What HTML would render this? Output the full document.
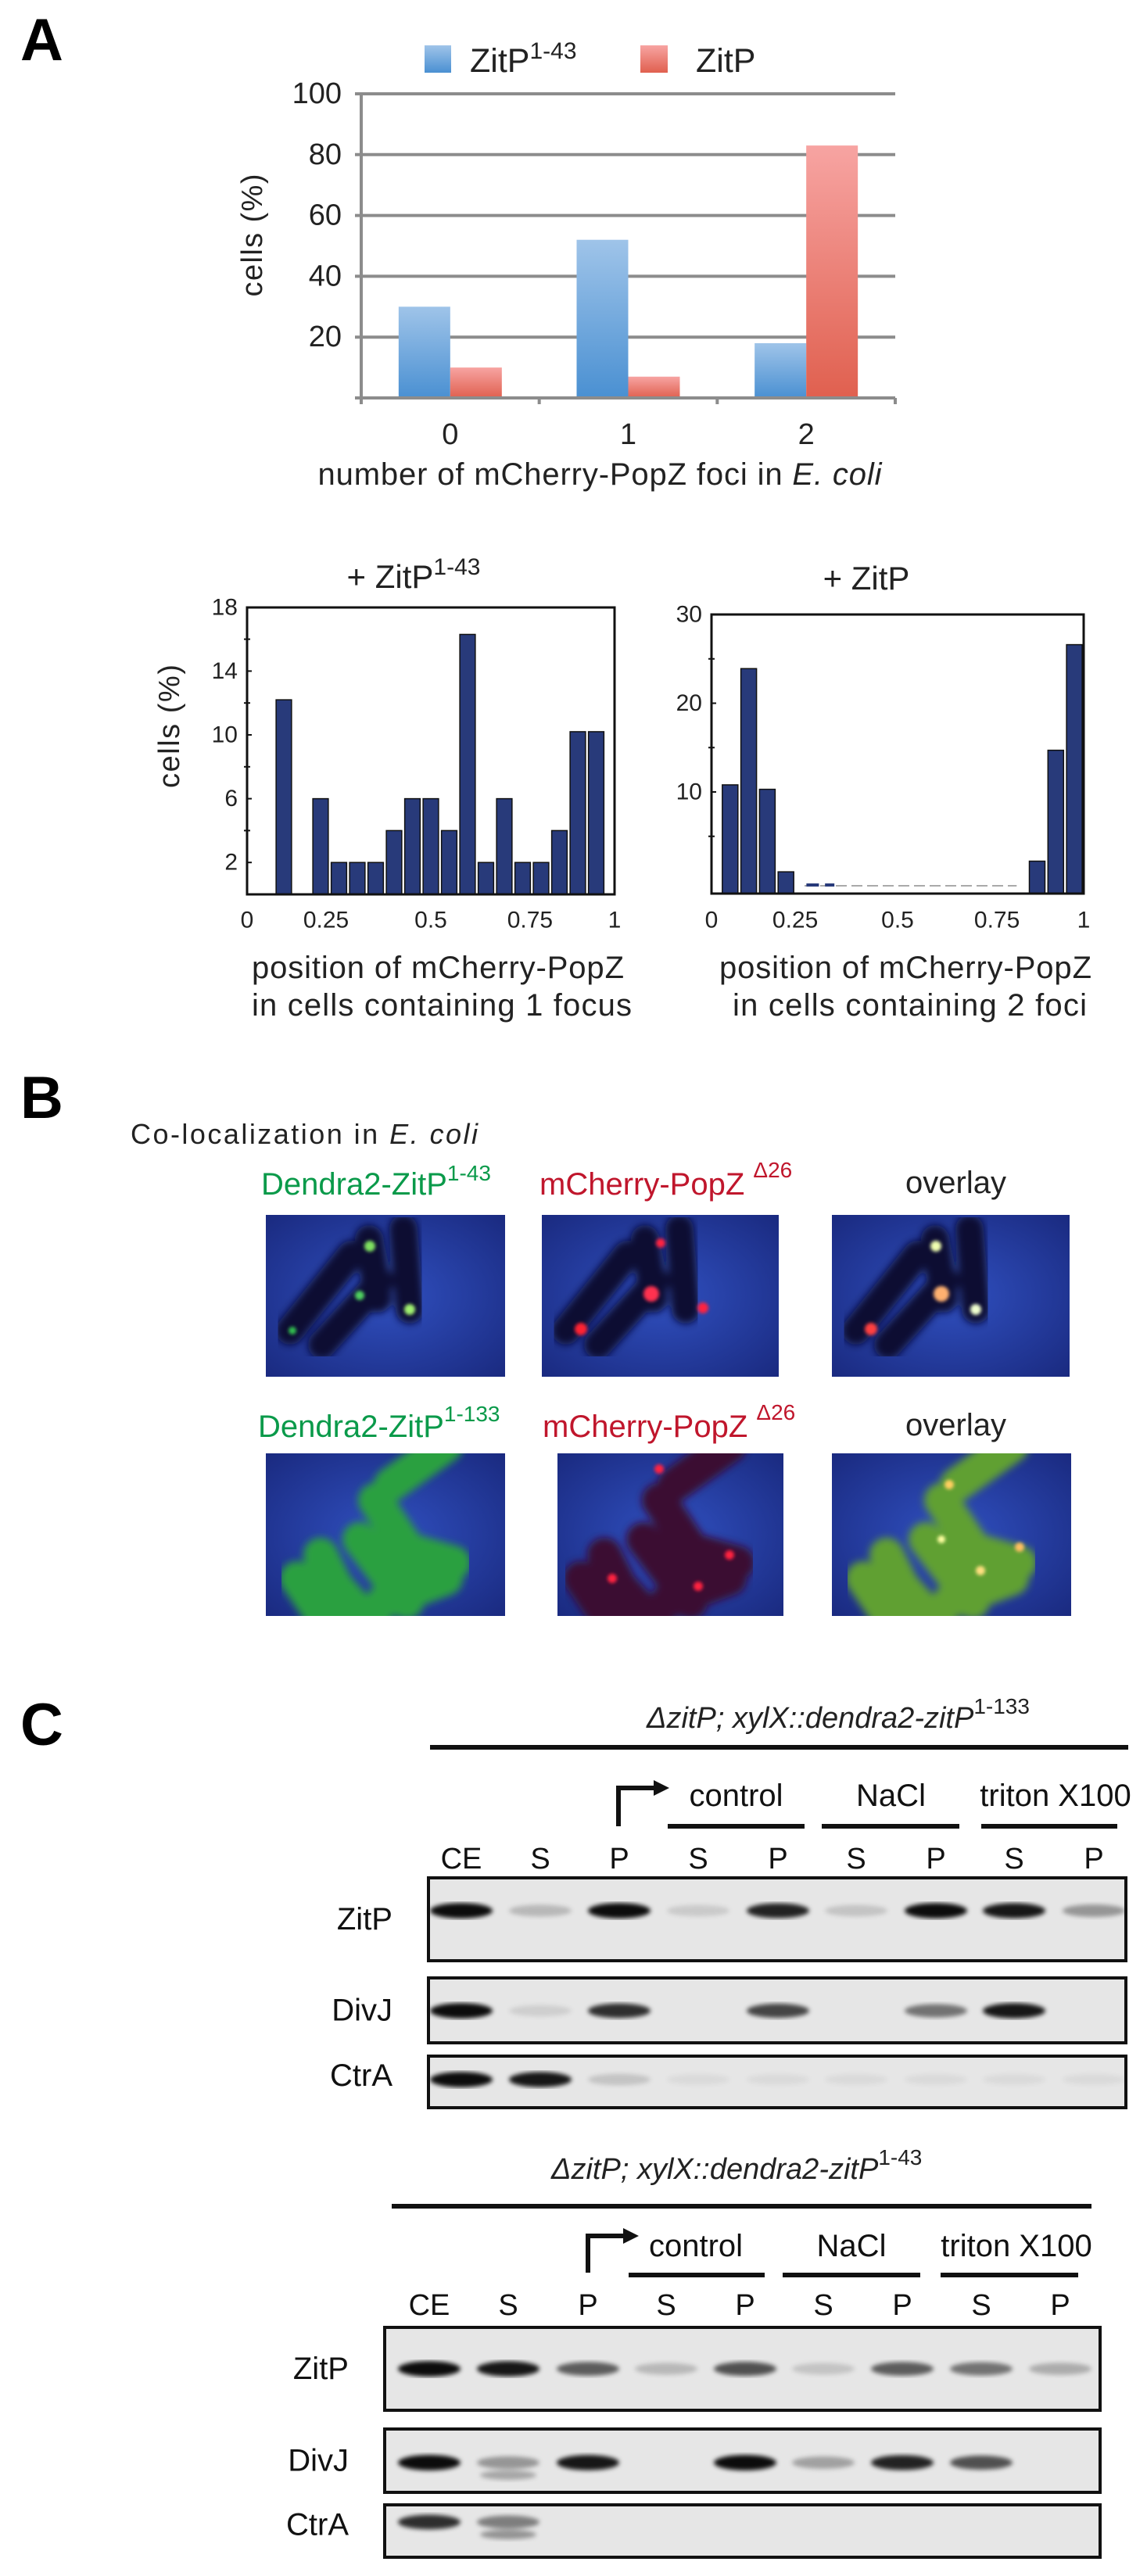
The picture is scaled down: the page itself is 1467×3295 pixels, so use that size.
<!DOCTYPE html>
<html><head><meta charset="utf-8"><style>
html,body{margin:0;padding:0;background:#fff;}
svg{display:block;font-family:"Liberation Sans",Arial,sans-serif;}
</style></head><body>
<svg id="fig" xmlns="http://www.w3.org/2000/svg" width="1467" height="3295" viewBox="0 0 1467 3295">
<defs>
<linearGradient id="gBlue" x1="0" y1="0" x2="0" y2="1"><stop offset="0" stop-color="#9fc4e9"/><stop offset="1" stop-color="#4a90d2"/></linearGradient>
<linearGradient id="gRed" x1="0" y1="0" x2="0" y2="1"><stop offset="0" stop-color="#f7a4a2"/><stop offset="1" stop-color="#e0604f"/></linearGradient>
<filter id="blur3"><feGaussianBlur stdDeviation="3"/></filter>
<filter id="blur5"><feGaussianBlur stdDeviation="5"/></filter>
<filter id="blur2"><feGaussianBlur stdDeviation="2"/></filter>
<radialGradient id="gMic" cx="0.5" cy="0.5" r="0.7"><stop offset="0" stop-color="#3050c0"/><stop offset="1" stop-color="#1a2a80"/></radialGradient>
<clipPath id="clipH2"><rect x="910" y="786" width="476" height="357"/></clipPath>
</defs>

<text x="26" y="77" font-size="76" font-weight="bold">A</text>
<text x="26" y="1430" font-size="76" font-weight="bold">B</text>
<text x="26" y="2232" font-size="76" font-weight="bold">C</text>

<g id="chartA">
  <rect x="543" y="58" width="34" height="35" fill="url(#gBlue)"/>
  <text x="601" y="92" font-size="43" fill="#222">ZitP<tspan font-size="30" dy="-17">1-43</tspan></text>
  <rect x="819" y="58" width="35" height="35" fill="url(#gRed)"/>
  <text x="890" y="92" font-size="43" fill="#222">ZitP</text>
  <text transform="translate(323,301) rotate(-90)" text-anchor="middle" dominant-baseline="central" font-size="38" fill="#222" textLength="157">cells (%)</text>
  <text x="767" y="620" text-anchor="middle" font-size="40" fill="#222" textLength="721">number of mCherry-PopZ foci in <tspan font-style="italic">E. coli</tspan></text>
</g>

<g id="hist1">
  <text x="529" y="752" text-anchor="middle" font-size="42" fill="#222">+ ZitP<tspan font-size="30" dy="-17">1-43</tspan></text>
  <text transform="translate(217,929) rotate(-90)" text-anchor="middle" dominant-baseline="central" font-size="38" fill="#222" textLength="158">cells (%)</text>
  <text x="322" y="1251" font-size="40" fill="#222" textLength="476">position of mCherry-PopZ</text>
  <text x="322" y="1299" font-size="40" fill="#222" textLength="486">in  cells containing 1 focus</text>
</g>
<g id="hist2">
  <text x="1108" y="754" text-anchor="middle" font-size="42" fill="#222">+ ZitP</text>
  <text x="920" y="1251" font-size="40" fill="#222" textLength="476">position of mCherry-PopZ</text>
  <text x="937" y="1299" font-size="40" fill="#222" textLength="453">in  cells containing 2 foci</text>
</g>

<g id="panelB">
  <text x="167" y="1463" font-size="36" fill="#222" textLength="444">Co-localization in <tspan font-style="italic">E. coli</tspan></text>
  <text x="334" y="1528" font-size="40" fill="#0a9a4a">Dendra2-ZitP<tspan font-size="28" dy="-18">1-43</tspan></text>
  <text x="690" y="1528" font-size="40" fill="#c0162c">mCherry-PopZ <tspan font-size="28" dy="-22">Δ26</tspan></text>
  <text x="1158" y="1526" font-size="40" fill="#222">overlay</text>
  <text x="330" y="1838" font-size="40" fill="#0a9a4a">Dendra2-ZitP<tspan font-size="28" dy="-20">1-133</tspan></text>
  <text x="694" y="1838" font-size="40" fill="#c0162c">mCherry-PopZ <tspan font-size="28" dy="-22">Δ26</tspan></text>
  <text x="1158" y="1836" font-size="40" fill="#222">overlay</text>
</g>
<g id="micros"></g>

<g id="panelC"></g>
</svg>

<script>
// ---------- Chart A data ----------
const catsA = ["0", "1", "2"];
const seriesZitP143 = [30, 52, 18];
const seriesZitP = [10, 7, 83];
const yTicksA = [20, 40, 60, 80, 100];

// ---------- Histogram 1 data ----------
const bins1 = [0.10,0.15,0.20,0.25,0.30,0.35,0.40,0.45,0.50,0.55,0.60,0.65,0.70,0.75,0.80,0.85,0.90,0.95];
const vals1 = [12.2,0,6,2,2,2,4,6,6,4,16.3,2,6,2,2,4,10.2,10.2];
const yTicks1 = [2, 6, 10, 14, 18];
const yMinor1 = [4, 8, 12, 16];
const xTicks1 = ["0", "0.25", "0.5", "0.75", "1"];
const xTickVals1 = [0, 0.215, 0.5, 0.77, 1];

// ---------- Histogram 2 data ----------
const bins2 = [0.05,0.10,0.15,0.20,0.875,0.925,0.975,1.025];
const vals2 = [10.8,23.9,10.3,1.0,2.2,14.7,26.6,2.1];
const yTicks2 = [10, 20, 30];
const yMinor2 = [5, 15, 25];
const xTicks2 = ["0", "0.25", "0.5", "0.75", "1"];
const xTickVals2 = [0, 0.225, 0.5, 0.767, 1];

// ---------- Blot data (band intensity per lane) ----------
const laneLabels = ["CE","S","P","S","P","S","P","S","P"];
const blot1ZitP = [0.95,0.2,0.95,0.12,0.85,0.15,0.95,0.9,0.35];
const blot1DivJ = [0.95,0.1,0.8,0,0.7,0,0.5,0.9,0];
const blot1CtrA = [0.95,0.9,0.15,0.05,0.05,0.05,0.05,0.05,0.05];
const blot2ZitP = [0.95,0.9,0.6,0.2,0.65,0.15,0.6,0.5,0.25];
const blot2DivJ = [0.95,0.35,0.9,0,0.95,0.3,0.85,0.65,0];
const blot2CtrA = [0.8,0.45,0,0,0,0,0,0,0];

const NS = "http://www.w3.org/2000/svg";
function mk(parent, tag, attrs, txt){
  const e = document.createElementNS(NS, tag);
  for (const k in attrs) e.setAttribute(k, attrs[k]);
  if (txt !== undefined) e.textContent = txt;
  parent.appendChild(e);
  return e;
}

(function(){
  const g = document.getElementById('chartA');
  const L = 462, R = 1145, Y0 = 509, PPU = 3.89;
  const yA = v => Y0 - v * PPU;
  const gw = (R - L) / catsA.length;
  const xc = i => L + (i + 0.5) * gw;
  yTicksA.forEach(t => {
    const ln = mk(g, 'line', {x1: L - 8, x2: R, y1: yA(t), y2: yA(t), stroke: '#8c8c8c', 'stroke-width': 4});
    
    
    const tx = mk(g, 'text', {x: 437, y: yA(t), 'text-anchor': 'end', 'dominant-baseline': 'central', 'font-size': 38, fill: '#222'}, String(t));
    
    
  });
  catsA.forEach((c, i) => {
    const bw = 66;
    const b1 = mk(g, 'rect', {x: xc(i) - bw, y: yA(seriesZitP143[i]), width: bw, height: seriesZitP143[i] * PPU, fill: 'url(#gBlue)'});
    
    
    const b2 = mk(g, 'rect', {x: xc(i), y: yA(seriesZitP[i]), width: bw, height: seriesZitP[i] * PPU, fill: 'url(#gRed)'});
    
    
    const tl = mk(g, 'text', {x: xc(i), y: 568, 'text-anchor': 'middle', 'font-size': 38, fill: '#222'}, c);
    
    
  });
  const ax = mk(g, 'line', {x1: L, x2: L, y1: yA(100) - 2, y2: Y0 + 2, stroke: '#8c8c8c', 'stroke-width': 4});
  
  
  const bx = mk(g, 'line', {x1: L - 8, x2: R, y1: Y0, y2: Y0, stroke: '#8c8c8c', 'stroke-width': 4});
  
  
  for (let i = 0; i <= catsA.length; i++) {
    const tk = mk(g, 'line', {x1: L + i * gw, x2: L + i * gw, y1: Y0, y2: Y0 + 8, stroke: '#8c8c8c', 'stroke-width': 4});
    
    
  }
})();

function drawHist(gid, cfg){
  const g = document.getElementById(gid);
  const {L, R, T, B, ppx, y0px, bins, vals, yTicks, yMinor, xTicks, xTickVals, clip} = cfg;
  const x = v => L + v * (R - L);
  const y = v => y0px - v * ppx;
  const bg = mk(g, 'g', clip ? {'clip-path': clip} : {});
  bins.forEach((b, i) => {
    if (vals[i] <= 0) return;
    const w = 0.042 * (R - L);
    const r = mk(bg, 'rect', {x: x(b) - w / 2, y: y(vals[i]), width: w, height: B - y(vals[i]), fill: '#283a7a', stroke: '#111', 'stroke-width': 1.5});
    
    
  });
  const fr = mk(g, 'path', {d: `M${L},${T} L${R},${T} L${R},${B} L${L},${B} Z`, fill: 'none', stroke: '#111', 'stroke-width': 3});
  
  
  yTicks.forEach(t => {
    const tk = mk(g, 'line', {x1: L, x2: L + 6, y1: y(t), y2: y(t), stroke: '#111', 'stroke-width': 2});
    
    
    const tl = mk(g, 'text', {x: L - 12, y: y(t), 'text-anchor': 'end', 'dominant-baseline': 'central', 'font-size': 30, fill: '#222'}, String(t));
    
    
  });
  yMinor.forEach(t => {
    const tk = mk(g, 'line', {x1: L - 4, x2: L + 4, y1: y(t), y2: y(t), stroke: '#111', 'stroke-width': 2});
    
    
  });
  xTicks.forEach((t, i) => {
    const tl = mk(g, 'text', {x: x(xTickVals[i]), y: 1177, 'text-anchor': 'middle', 'dominant-baseline': 'central', 'font-size': 30, fill: '#222'}, t);
    
    
  });
  return {x, y};
}
drawHist('hist1', {L: 316, R: 786, T: 777, B: 1144, ppx: 20.4, y0px: 1144, bins: bins1, vals: vals1, yTicks: yTicks1, yMinor: yMinor1, xTicks: xTicks1, xTickVals: xTickVals1});
const h2 = drawHist('hist2', {L: 910, R: 1386, T: 786, B: 1143, ppx: 11.35, y0px: 1126.5, bins: bins2, vals: vals2, yTicks: yTicks2, yMinor: yMinor2, xTicks: xTicks2, xTickVals: xTickVals2, clip: 'url(#clipH2)'});
(function(){
  const g = document.getElementById('hist2');
  const dl = mk(g, 'line', {x1: h2.x(0.25), x2: h2.x(0.82), y1: 1133, y2: 1133, stroke: '#aaa', 'stroke-width': 2, 'stroke-dasharray': '14 6'});
  
  
  const m1 = mk(g, 'rect', {x: h2.x(0.255), y: 1130, width: 16, height: 4, fill: '#283a7a'});
  
  
  const m2 = mk(g, 'rect', {x: h2.x(0.305), y: 1130, width: 12, height: 4, fill: '#283a7a'});
  
  
})();

(function(){
  const g = document.getElementById('micros');
  const defs = document.querySelector('defs');
  const cells1 = [[31,148,109,51],[72,166,146,85],[143,107,132,31],[184,121,176,18]];
  let cid = 0;
  function img(x0, y0, w, h, name, cells, cellColor, dots, dense){
    cid++;
    const cp = mk(defs, 'clipPath', {id: 'micClip' + cid});
    mk(cp, 'rect', {x: 0, y: 0, width: w, height: h});
    const gg = mk(g, 'g', {transform: `translate(${x0},${y0})`, 'clip-path': `url(#micClip${cid})`});
    
    
    mk(gg, 'rect', {x: 0, y: 0, width: w, height: h, fill: 'url(#gMic)'});
    const cg = mk(gg, 'g', {filter: 'url(#blur5)'});
    cells.forEach(c => {
      mk(cg, 'line', {x1: c[0], y1: c[1], x2: c[2], y2: c[3], stroke: cellColor, 'stroke-width': dense ? 44 : 36, 'stroke-linecap': 'round'});
    });
    const dg = mk(gg, 'g', {filter: 'url(#blur2)'});
    dots.forEach(d => mk(dg, 'circle', {cx: d[0], cy: d[1], r: d[2], fill: d[3]}));
  }
  const gd = [[133,40,7,'#7fe060'],[120,103,6,'#50d060'],[184,121,7,'#a0f070'],[34,148,5,'#30c050']];
  const rd = [[152,36,6,'#ff2040'],[140,101,10,'#ff3050'],[206,119,7,'#ff2040'],[50,146,8,'#ff2030']];
  const od = [[133,40,7,'#f0ffb0'],[140,101,10,'#ffb070'],[184,121,7,'#f0ffd0'],[50,146,8,'#ff4040']];
  img(340,1554,306,207,'micrograph-dendra2-zitp1-43',cells1,'#0a1030',gd,false);
  img(693,1554,303,207,'micrograph-mcherry-popz-row1',cells1,'#0a1030',rd,false);
  img(1064,1554,304,207,'micrograph-overlay-row1',cells1,'#0a1030',od,false);
  const cells2 = [[230,-10,160,40],[140,60,200,150],[120,110,180,190],[70,130,110,210],[40,160,80,220],[170,120,240,140],[150,190,230,160],[90,170,140,225]];
  img(340,1859,306,208,'micrograph-dendra2-zitp1-133',cells2,'#2aa040',[],true);
  const cells2r = cells2.map(c => [c[0]-10,c[1],c[2]-10,c[3]]);
  img(713,1859,289,208,'micrograph-mcherry-popz-row2',cells2r,'#3a0a30',[[130,20,6,'#ff2040'],[70,160,6,'#ff2040'],[180,170,6,'#ff2040'],[220,130,6,'#ff2040']],true);
  img(1064,1859,306,208,'micrograph-overlay-row2',cells2,'#60a030',[[150,40,6,'#ffd060'],[140,110,5,'#ffffa0'],[190,150,6,'#ffe080'],[240,120,6,'#ffc060']],true);
})();

(function(){
  const g = document.getElementById('panelC');
  function block(cfg){
    const {title, sup, tx, ty, lineX1, lineX2, lineY, arrowX, arrowTop, arrowBot, arrowEnd, groups, lanes, laneY, boxL, boxR, rows} = cfg;
    const t = mk(g, 'text', {x: tx, y: ty, 'font-size': 38, 'font-style': 'italic', fill: '#222'});
    
    
    t.innerHTML = title + '<tspan font-style="normal" font-size="28" dy="-18">' + sup + '</tspan>';
    const tl = mk(g, 'line', {x1: lineX1, x2: lineX2, y1: lineY, y2: lineY, stroke: '#111', 'stroke-width': 6});
    
    
    const ar = mk(g, 'path', {d: `M${arrowX},${arrowBot} L${arrowX},${arrowTop} L${arrowEnd - 14},${arrowTop}`, fill: 'none', stroke: '#111', 'stroke-width': 6});
    
    
    const ah = mk(g, 'path', {d: `M${arrowEnd},${arrowTop} L${arrowEnd - 20},${arrowTop - 10} L${arrowEnd - 20},${arrowTop + 10} Z`, fill: '#111'});
    
    
    groups.forEach(gr => {
      const gt = mk(g, 'text', {x: (gr[1] + gr[2]) / 2, y: gr[3], 'text-anchor': 'middle', 'font-size': 40, fill: '#111'}, gr[0]);
      
      
      const ul = mk(g, 'line', {x1: gr[4], x2: gr[5], y1: gr[6], y2: gr[6], stroke: '#111', 'stroke-width': 6});
      
      
    });
    laneLabels.forEach((l, i) => {
      const ll = mk(g, 'text', {x: lanes[i], y: laneY, 'text-anchor': 'middle', 'font-size': 38, fill: '#111'}, l);
      
      
    });
    rows.forEach(r => {
      const [name, top, bot, bandY, vals, double] = r;
      const lab = mk(g, 'text', {x: boxL - 46, y: (top + bot) / 2 - (name === 'CtrA' ? 8 : 0), 'text-anchor': 'end', 'dominant-baseline': 'central', 'font-size': 40, fill: '#111'}, name);
      
      
      const bg = mk(g, 'rect', {x: boxL, y: top, width: boxR - boxL, height: bot - top, fill: '#e6e6e6'});
      
      
      const bandG = mk(g, 'g', {filter: 'url(#blur3)'});
      vals.forEach((v, i) => {
        if (v <= 0.02) return;
        const e = mk(bandG, 'ellipse', {cx: lanes[i], cy: bandY, rx: 40, ry: 7 + 3 * v, fill: '#000', opacity: Math.min(1, v)});
        
        
        if (double && i === 1) {
          const e2 = mk(bandG, 'ellipse', {cx: lanes[i], cy: bandY + 16, rx: 36, ry: 6, fill: '#000', opacity: v * 0.8});
          
          
        }
      });
      const bx = mk(g, 'rect', {x: boxL, y: top, width: boxR - boxL, height: bot - top, fill: 'none', stroke: '#111', 'stroke-width': 4});
      
      
    });
  }
  block({title: 'ΔzitP; xylX::dendra2-zitP', sup: '1-133', tx: 827, ty: 2210, lineX1: 550, lineX2: 1443, lineY: 2235,
    arrowX: 791, arrowTop: 2287, arrowBot: 2336, arrowEnd: 856,
    groups: [['control',879,1004,2310,854,1029,2336],['NaCl',1095,1184,2310,1051,1227,2336],['triton X100',1250,1450,2310,1255,1429,2336]],
    lanes: [590,691,792,893,995,1095,1197,1297,1399], laneY: 2390, boxL: 548, boxR: 1440,
    rows: [['ZitP',2402,2508,2444,blot1ZitP,false],['DivJ',2530,2613,2572,blot1DivJ,false],['CtrA',2630,2696,2660,blot1CtrA,false]]});
  block({title: 'ΔzitP; xylX::dendra2-zitP', sup: '1-43', tx: 705, ty: 2787, lineX1: 501, lineX2: 1396, lineY: 2822,
    arrowX: 752, arrowTop: 2860, arrowBot: 2907, arrowEnd: 817,
    groups: [['control',829,951,2886,804,978,2910],['NaCl',1043,1135,2886,1001,1177,2910],['triton X100',1200,1400,2886,1203,1379,2910]],
    lanes: [549,650,752,852,953,1053,1154,1255,1356], laneY: 2961, boxL: 492, boxR: 1407,
    rows: [['ZitP',2977,3083,3030,blot2ZitP,false],['DivJ',3107,3188,3150,blot2DivJ,true],['CtrA',3204,3271,3226,blot2CtrA,true]]});
})();
</script>
</body></html>
